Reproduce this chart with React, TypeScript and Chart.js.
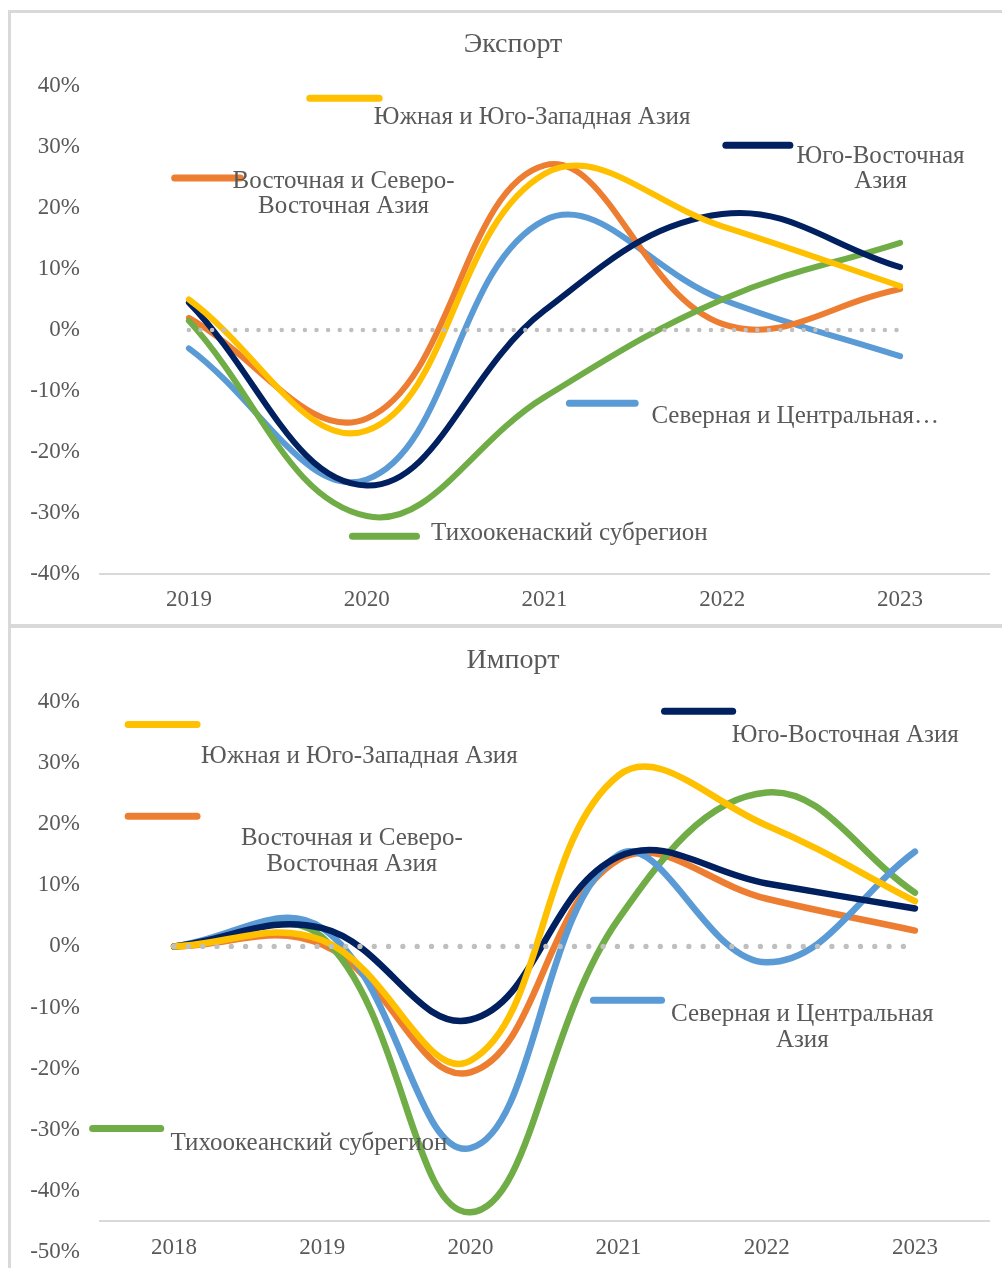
import React, { useEffect, useRef } from 'react';
import { Chart, registerables } from 'chart.js';

Chart.register(...registerables);

// ---------- DATA ----------
const exportYears = ['2019', '2020', '2021', '2022', '2023'];
const exportEast = [2.0, -14.5, 27.0, 1.0, 6.7];
const exportSouth = [5.0, -16.5, 25.6, 17.0, 7.2];
const exportNorth = [-3.0, -24.5, 18.0, 5.0, -4.3];
const exportSouthEast = [4.5, -25.5, 3.2, 19.0, 10.3];
const exportPacific = [1.5, -30.5, -11.0, 5.0, 14.3];
const exportZero = [0, 0, 0, 0, 0];
const exportYTicks = [-40, -30, -20, -10, 0, 10, 20, 30, 40];

const importYears = ['2018', '2019', '2020', '2021', '2022', '2023'];
const importEast = [0, 0.3, -20.6, 14.2, 7.8, 2.6];
const importSouth = [0, 1.0, -18.7, 28.0, 19.8, 7.4];
const importNorth = [0, 3.0, -33.0, 15.0, -2.6, 15.5];
const importSouthEast = [0, 3.0, -12.0, 14.7, 10.3, 6.2];
const importPacific = [0, 1.5, -43.5, 4.5, 25.2, 8.8];
const importZero = [0, 0, 0, 0, 0, 0];
const importYTicks = [-50, -40, -30, -20, -10, 0, 10, 20, 30, 40];

const nameEast = ['Восточная и Северо-', 'Восточная Азия'];
const nameSouth = ['Южная и Юго-Западная Азия'];
const nameSouthEastExp = ['Юго-Восточная', 'Азия'];
const nameSouthEastImp = ['Юго-Восточная Азия'];
const nameNorthExp = ['Северная и Центральная…'];
const nameNorthImp = ['Северная и Центральная', 'Азия'];
const namePacificExp = ['Тихоокенаский субрегион'];
const namePacificImp = ['Тихоокеанский субрегион'];

// ---------- STYLE ----------
const C_EAST = '#ED7D31';
const C_SOUTH = '#FFC000';
const C_NORTH = '#5B9BD5';
const C_SE = '#002060';
const C_PAC = '#70AD47';
const C_ZERO = '#BFBFBF';
const TEXT = '#595959';
const FONT = "'Liberation Serif', 'Times New Roman', serif";

// label placements in data space (category index, percent)
const exportLabels = [
  { color: C_SOUTH, seg: [0.68, 1.07], segY: 38.0, lines: nameSouth, tx: 1.93, ty: [34.9] },
  { color: C_EAST, seg: [-0.08, 0.29], segY: 24.9, lines: nameEast, tx: 0.87, ty: [24.4, 20.2] },
  { color: C_SE, seg: [3.02, 3.38], segY: 30.3, lines: nameSouthEastExp, tx: 3.89, ty: [28.5, 24.4] },
  { color: C_NORTH, seg: [2.14, 2.51], segY: -12.0, lines: nameNorthExp, tx: 3.41, ty: [-14.1] },
  { color: C_PAC, seg: [0.92, 1.28], segY: -33.8, lines: namePacificExp, tx: 2.14, ty: [-33.4] },
];
const importLabels = [
  { color: C_SOUTH, seg: [-0.31, 0.155], segY: 36.3, lines: nameSouth, tx: 1.25, ty: [31.1] },
  { color: C_EAST, seg: [-0.31, 0.155], segY: 21.3, lines: nameEast, tx: 1.2, ty: [17.7, 13.4] },
  { color: C_SE, seg: [3.31, 3.77], segY: 38.5, lines: nameSouthEastImp, tx: 4.53, ty: [34.5] },
  { color: C_NORTH, seg: [2.83, 3.29], segY: -8.8, lines: nameNorthImp, tx: 4.24, ty: [-11.1, -15.4] },
  { color: C_PAC, seg: [-0.55, -0.09], segY: -29.8, lines: namePacificImp, tx: 0.91, ty: [-32.2] },
];

// Excel-like Catmull-Rom smoothing computed from the scale pixels
const excelSmooth = {
  id: 'excelSmooth',
  beforeDatasetDraw(chart: any, args: any) {
    const ds: any = chart.data.datasets[args.index];
    if (!ds.smooth) return;
    const pts: any[] = args.meta.data;
    const n = pts.length;
    for (let i = 0; i < n; i++) {
      const cur = pts[i];
      const prev = pts[Math.max(i - 1, 0)];
      const next = pts[Math.min(i + 1, n - 1)];
      const dx = (next.x - prev.x) / 6;
      const dy = (next.y - prev.y) / 6;
      cur.controlPointPreviousX = cur.x - dx;
      cur.controlPointPreviousY = cur.y - dy;
      cur.controlPointNextX = cur.x + dx;
      cur.controlPointNextY = cur.y + dy;
    }
    args.meta.dataset._pointsUpdated = true;
    args.meta.dataset._path = undefined;
  },
};

function inlineLabels(items: any[], fontSize: number, title: string, titleX: number, titleY: number) {
  return {
    id: 'inlineLabels',
    afterDraw(chart: any) {
      const ctx = chart.ctx;
      const xs = chart.scales.x;
      const ys = chart.scales.y;
      ctx.save();
      ctx.fillStyle = TEXT;
      ctx.font = `28px ${FONT}`;
      ctx.textAlign = 'center';
      ctx.textBaseline = 'middle';
      ctx.fillText(title, titleX, titleY);
      for (const it of items) {
        ctx.strokeStyle = it.color;
        ctx.lineWidth = 7;
        ctx.lineCap = 'round';
        ctx.beginPath();
        ctx.moveTo(xs.getPixelForValue(it.seg[0]), ys.getPixelForValue(it.segY));
        ctx.lineTo(xs.getPixelForValue(it.seg[1]), ys.getPixelForValue(it.segY));
        ctx.stroke();
        ctx.fillStyle = TEXT;
        ctx.font = `${fontSize}px ${FONT}`;
        ctx.textAlign = 'center';
        ctx.textBaseline = 'middle';
        it.lines.forEach((t: string, k: number) => {
          ctx.fillText(t, xs.getPixelForValue(it.tx), ys.getPixelForValue(it.ty[k]));
        });
      }
      ctx.restore();
    },
  };
}

function series(data: number[], color: string, width: number) {
  return {
    data,
    borderColor: color,
    borderWidth: width,
    borderCapStyle: 'round',
    borderJoinStyle: 'round',
    tension: 0.4,
    smooth: true,
    pointRadius: 0,
    fill: false,
  };
}
function zeroSeries(data: number[], width: number, gap: number) {
  return {
    data,
    borderColor: C_ZERO,
    borderWidth: width,
    borderCapStyle: 'round',
    borderDash: [0, gap],
    tension: 0,
    pointRadius: 0,
    fill: false,
  };
}

interface PanelCfg {
  title: string;
  titleY: number;
  topPad: number;
  labels: string[];
  datasets: any[];
  yTicks: number[];
  xAxisAt: number | null;
  xHeight: number;
  xPad: number;
  bottomPad: number;
  items: any[];
}

function buildConfig(p: PanelCfg): any {
  const tickFont = { family: FONT, size: 23 };
  const xScale: any = {
    type: 'category',
    offset: true,
    grid: { display: false, drawTicks: false },
    border: { display: true, color: '#D9D9D9', width: 2 },
    ticks: { color: TEXT, font: tickFont, padding: p.xPad, maxRotation: 0, autoSkip: false },
  };
  if (p.xAxisAt === null) {
    xScale.afterFit = (s: any) => {
      s.height = p.xHeight;
    };
  } else {
    xScale.position = { y: p.xAxisAt };
  }
  return {
    type: 'line',
    data: { labels: p.labels, datasets: p.datasets },
    options: {
      responsive: false,
      animation: false,
      events: [],
      layout: { padding: { left: 0, right: 13, top: p.topPad, bottom: p.bottomPad } },
      plugins: {
        legend: { display: false },
        tooltip: { enabled: false },
        title: { display: false },
      },
      scales: {
        x: xScale,
        y: {
          type: 'linear',
          min: p.yTicks[0],
          max: p.yTicks[p.yTicks.length - 1],
          grid: { display: false, drawTicks: true, tickLength: 20 },
          border: { display: false },
          afterBuildTicks: (s: any) => {
            s.ticks = p.yTicks.map((v) => ({ value: v }));
          },
          afterFit: (s: any) => {
            s.width = 100;
          },
          ticks: {
            color: TEXT,
            font: tickFont,
            padding: 0,
            callback: (v: any) => `${v}%`,
          },
        },
      },
    },
    plugins: [excelSmooth, inlineLabels(p.items, 25, p.title, 513, p.titleY)],
  };
}

export default function App() {
  const topRef = useRef<HTMLCanvasElement>(null);
  const botRef = useRef<HTMLCanvasElement>(null);

  useEffect(() => {
    Chart.defaults.font.family = FONT;
    const top = new Chart(
      topRef.current as HTMLCanvasElement,
      buildConfig({
        title: 'Экспорт',
        titleY: 45,
        topPad: 86,
        labels: exportYears,
        datasets: [
          zeroSeries(exportZero, 4.5, 11.6),
          series(exportSouth, C_SOUTH, 6),
          series(exportSouthEast, C_SE, 6),
          series(exportPacific, C_PAC, 6),
          series(exportEast, C_EAST, 6),
          series(exportNorth, C_NORTH, 6),
        ],
        yTicks: exportYTicks,
        xAxisAt: null,
        xHeight: 50,
        xPad: 12,
        bottomPad: 0,
        items: exportLabels,
      })
    );
    const bot = new Chart(
      botRef.current as HTMLCanvasElement,
      buildConfig({
        title: 'Импорт',
        titleY: 34,
        topPad: 75,
        labels: importYears,
        datasets: [
          zeroSeries(importZero, 5.3, 14.3),
          series(importSouth, C_SOUTH, 6.5),
          series(importSouthEast, C_SE, 6.5),
          series(importNorth, C_NORTH, 6.5),
          series(importPacific, C_PAC, 6.5),
          series(importEast, C_EAST, 6.5),
        ],
        yTicks: importYTicks,
        xAxisAt: -45,
        xHeight: 0,
        xPad: 13,
        bottomPad: 16,
        items: importLabels,
      })
    );
    return () => {
      top.destroy();
      bot.destroy();
    };
  }, []);

  return (
    <div style={{ position: 'absolute', left: 0, top: 0, width: 1002, height: 1268, overflow: 'hidden', background: '#fff' }}>
      <div
        style={{
          position: 'absolute', left: 8, top: 10, width: 994, height: 614, boxSizing: 'border-box',
          borderTop: '3px solid #D9D9D9', borderLeft: '3px solid #D9D9D9',
        }}
      />
      <div
        style={{
          position: 'absolute', left: 8, top: 624, width: 994, height: 644, boxSizing: 'border-box',
          borderTop: '4px solid #D9D9D9', borderLeft: '3px solid #D9D9D9',
        }}
      />
      <canvas
        ref={topRef}
        width={1002}
        height={624}
        style={{ position: 'absolute', left: 0, top: 0, width: 1002, height: 624 }}
      />
      <canvas
        ref={botRef}
        width={1002}
        height={641}
        style={{ position: 'absolute', left: 0, top: 627, width: 1002, height: 641 }}
      />
    </div>
  );
}
